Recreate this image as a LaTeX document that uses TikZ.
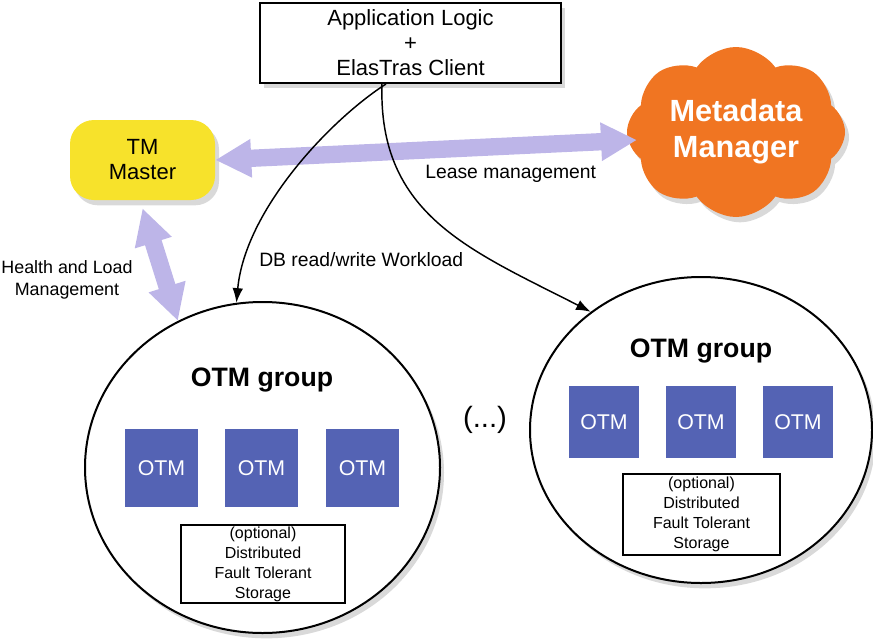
\documentclass[tikz,border=0pt]{standalone}
\usepackage{fontspec}
\setmainfont{Liberation Sans}
\usepackage{xcolor}
\usetikzlibrary{arrows.meta}
\usetikzlibrary{shapes.geometric}
\usetikzlibrary{shapes.symbols}
\usetikzlibrary{shadows}
\definecolor{tmyellow}{RGB}{247,226,43}
\definecolor{mmorange}{RGB}{240,117,34}
\definecolor{otmblue}{RGB}{84,99,180}
\definecolor{lilac}{RGB}{189,181,232}

\begin{document}
\begin{tikzpicture}[x=0.75pt,y=0.75pt]
\tikzset{>={Latex[width=8pt,length=11pt]}}
\tikzstyle{castshadow} =[drop shadow={opacity=0.3,shadow xshift=3pt,shadow yshift=-4pt}]
\tikzstyle{otm} =[fill=otmblue,text=white,font=\fontsize{16}{19}\selectfont]
\tikzstyle{storage} =[draw,line width=1.2pt,fill=white,align=center,inner sep=0pt,font=\fontsize{12}{15}\selectfont]
\tikzstyle{otmgroup} =[ellipse,draw,line width=1.5pt,fill=white,castshadow]
\tikzstyle{grouptitle} =[font=\bfseries\fontsize{20}{24}\selectfont]
\tikzstyle{bigarrow} =[draw=lilac,line width=13pt,{Triangle[length=27pt,width=27pt]}-{Triangle[length=27pt,width=27pt]}]
\tikzstyle{note} =[inner sep=0pt,font=\fontsize{14.5}{17}\selectfont]

\useasboundingbox (0,0) rectangle (873,-642);

\node[draw,line width=1.5pt,fill=white,castshadow,minimum width=225.75pt,minimum height=60pt,align=center,font=\fontsize{16.5}{18.75}\selectfont](app) at (410.5,-43){Application Logic\\+\\ElasTras Client};
\node[fill=tmyellow,rounded corners=18pt,castshadow,minimum width=108.75pt,minimum height=60pt,align=center,font=\fontsize{16.5}{18.75}\selectfont](tm) at (142.5,-160){TM\\Master};
\node[cloud,cloud puffs=8,cloud puff arc=110,cloud ignores aspect,fill=mmorange,castshadow,minimum width=163.5pt,minimum height=127.5pt,align=center,text=white,font=\bfseries\fontsize{23}{27}\selectfont](meta) at (736,-132){Metadata\\Manager};

\node[otmgroup,minimum width=266.25pt,minimum height=248.25pt](g1) at (262.5,-467.5){};
\node[otmgroup,minimum width=256.5pt,minimum height=229.5pt](g2) at (701,-430){};

\node[grouptitle](t1) at (262,-380){OTM group};
\node[grouptitle](t2) at (701,-351){OTM group};

\node[otm,minimum width=54.75pt,minimum height=58.5pt](o11) at (161.5,-468){OTM};
\node[otm,minimum width=54.75pt,minimum height=58.5pt](o12) at (261.5,-468){OTM};
\node[otm,minimum width=54.75pt,minimum height=58.5pt](o13) at (362.5,-468){OTM};
\node[otm,minimum width=52.5pt,minimum height=54pt](o21) at (604,-422){OTM};
\node[otm,minimum width=52.5pt,minimum height=54pt](o22) at (701,-422){OTM};
\node[otm,minimum width=52.5pt,minimum height=54pt](o23) at (798,-422){OTM};

\node[storage,minimum width=123pt,minimum height=58.5pt](s1) at (263,-564){(optional)\\Distributed\\Fault Tolerant\\Storage};
\node[storage,minimum width=117.75pt,minimum height=60.75pt](s2) at (701.5,-514.5){(optional)\\Distributed\\Fault Tolerant\\Storage};

\node[font=\fontsize{22}{26}\selectfont](dots) at (485,-420){(...)};

\coordinate (mmtip) at (637,-140);
\draw[bigarrow] (tm.east) -- (mmtip);
\draw[bigarrow] ([yshift=-6pt]tm.south) -- (g1.120);

\draw[->,line width=1.1pt] ([xshift=-18.4pt]app.south) .. controls (330,-120) and (245,-210) .. (g1.99);
\draw[->,line width=1.1pt] ([xshift=-21.4pt]app.south) .. controls (378,-215) and (470,-250) .. (g2.133);

\node[note,anchor=west](lease) at (425,-174){Lease management};
\node[note,anchor=west](db) at (259,-260){DB read/write Workload};
\node[note,align=center,font=\fontsize{13.4}{16}\selectfont](health) at (67,-280){Health and Load\\Management};
\end{tikzpicture}
\end{document}
